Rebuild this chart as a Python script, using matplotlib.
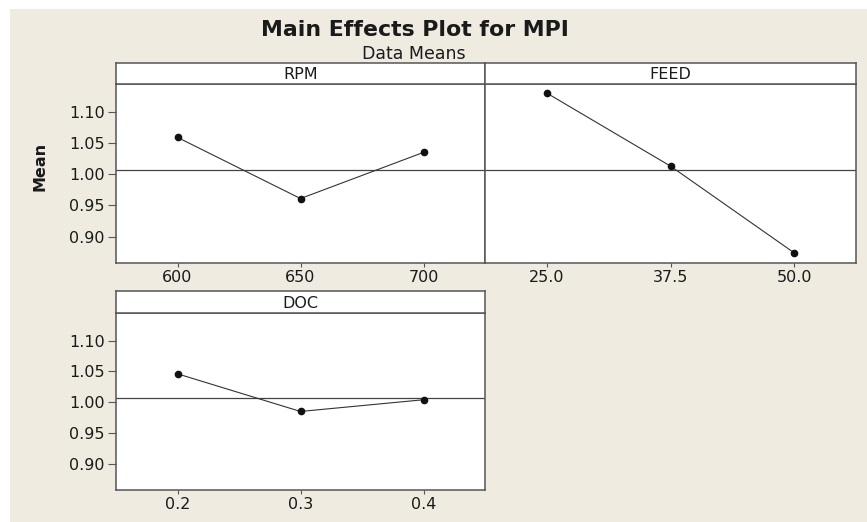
import matplotlib.pyplot as plt
from matplotlib.patches import Rectangle

# factor levels and response means
rpm_levels = ['600', '650', '700']
rpm_means = [1.059, 0.961, 1.035]

feed_levels = ['25.0', '37.5', '50.0']
feed_means = [1.130, 1.013, 0.874]

doc_levels = ['0.2', '0.3', '0.4']
doc_means = [1.046, 0.985, 1.004]

grand_mean = 1.0065
y_ticks = [0.90, 0.95, 1.00, 1.05, 1.10]
y_range = (0.8577, 1.1446)

W, H = 867, 522
BG = '#EFEBE1'
EDGE = '#555555'
TXT = '#1a1a1a'


def px_box(left, top, right, bottom):
    return [left / W, (H - bottom) / H, (right - left) / W, (bottom - top) / H]


def draw_panel(fig, name, levels, means, box, strip_top, show_y):
    left, top, right, bottom = box
    ax = fig.add_axes(px_box(left, top, right, bottom))
    xs = list(range(1, len(levels) + 1))
    ax.axhline(grand_mean, color='#444444', lw=0.9, zorder=1)
    ax.plot(xs, means, color='#333333', lw=0.8, marker='o', ms=4.5,
            mfc='#111111', mec='#111111', zorder=3)
    ax.set_xlim(0.5, len(levels) + 0.5)
    ax.set_ylim(*y_range)
    ax.set_xticks(xs)
    ax.set_xticklabels(levels)
    ax.tick_params(axis='x', direction='out', length=3, width=0.8,
                   color=EDGE, labelsize=11.5, labelcolor=TXT, pad=2)
    if show_y:
        ax.set_yticks(y_ticks)
        ax.set_yticklabels(['%.2f' % v for v in y_ticks])
        ax.tick_params(axis='y', direction='out', length=6, width=0.8,
                       color=EDGE, labelsize=11.5, labelcolor=TXT, pad=2)
    else:
        ax.set_yticks([])
    for s in ax.spines.values():
        s.set_color(EDGE)
        s.set_linewidth(1.1)

    # strip with factor name
    sax = fig.add_axes(px_box(left, strip_top, right, top))
    sax.set_xticks([])
    sax.set_yticks([])
    for s in sax.spines.values():
        s.set_color(EDGE)
        s.set_linewidth(1.1)
    sax.text(0.5, 0.45, name, ha='center', va='center', fontsize=11.5,
             color=TXT, transform=sax.transAxes)
    return ax


fig = plt.figure(figsize=(W / 100, H / 100), dpi=100, facecolor='white')
fig.patches.append(Rectangle((10 / W, 0), 1, (H - 9) / H,
                             transform=fig.transFigure, facecolor=BG,
                             edgecolor='none', zorder=-10))

draw_panel(fig, 'RPM', rpm_levels, rpm_means, (116, 84, 485, 263), 63, True)
draw_panel(fig, 'FEED', feed_levels, feed_means, (485, 84, 856, 263), 63, False)
draw_panel(fig, 'DOC', doc_levels, doc_means, (116, 313, 485, 490), 291, True)

fig.text(415 / W, 1 - 30 / H, 'Main Effects Plot for MPI', ha='center',
         va='center', fontsize=15.8, fontweight='bold', color=TXT)
fig.text(414 / W, 1 - 54 / H, 'Data Means', ha='center', va='center',
         fontsize=12.5, color=TXT)
fig.text(40 / W, 1 - 166 / H, 'Mean', ha='center', va='center',
         rotation=90, fontsize=11.5, fontweight='bold', color=TXT)

fig.savefig('out.png', dpi=100, facecolor=fig.get_facecolor())
